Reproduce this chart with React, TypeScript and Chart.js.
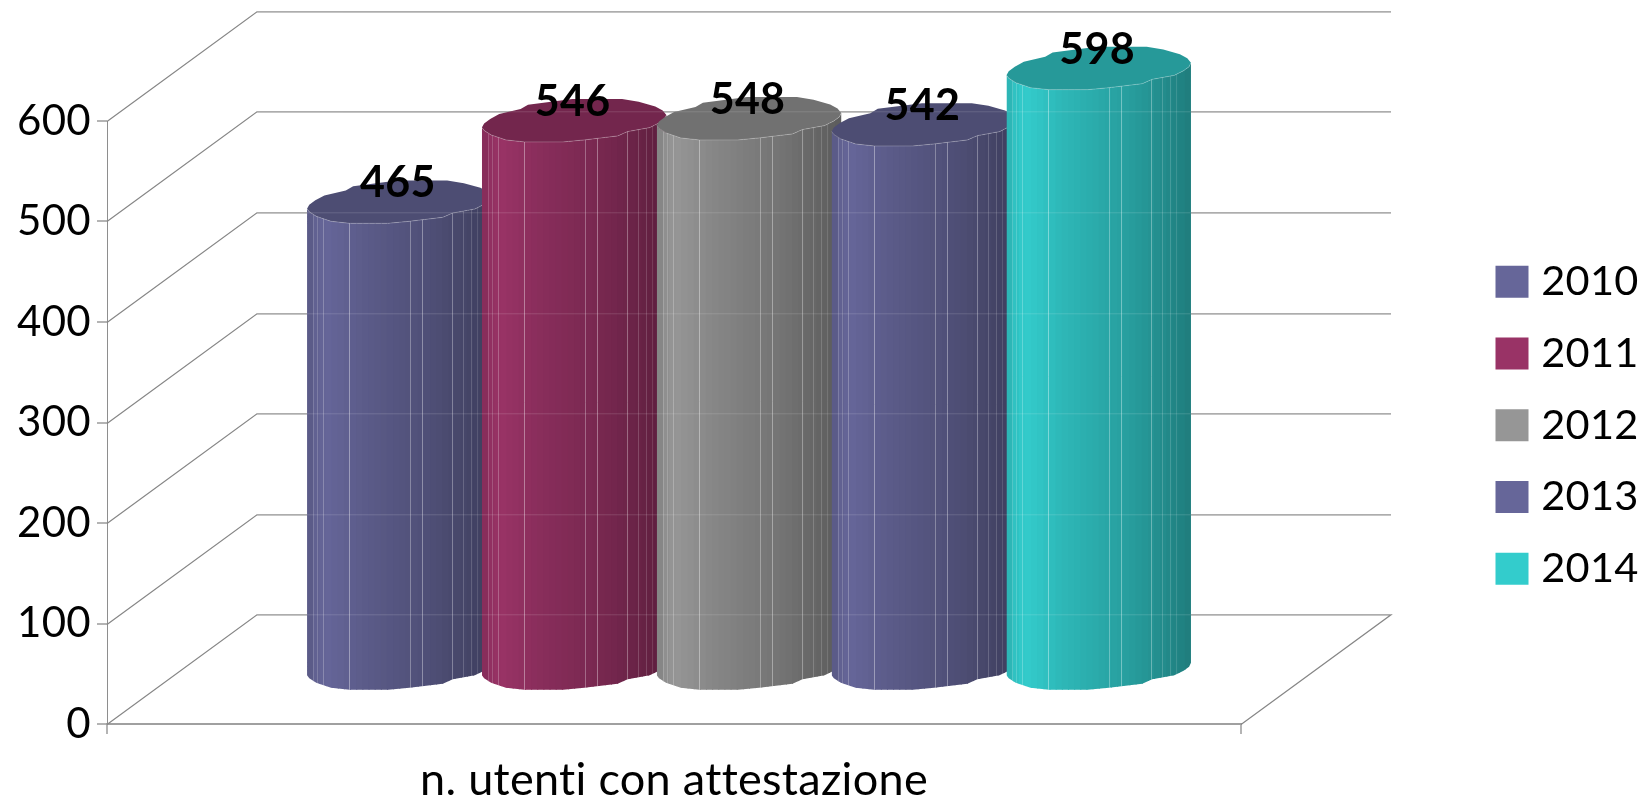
import React, { useEffect, useRef } from "react";
import { Chart, registerables } from "chart.js";

Chart.register(...registerables);

const categories = ["n. utenti con attestazione"];
const years = ["2010", "2011", "2012", "2013", "2014"];
const users = [465, 546, 548, 542, 598];
const colors = ["#666699", "#993366", "#969696", "#666699", "#33CCCC"];
const yTicks = [0, 100, 200, 300, 400, 500, 600];

const FONT = "Lato";
const DEPTH_X = 150;
const DEPTH_Y = 109.7;
const CYL_WIDTH = 184.5;

// Faceted outline of a cylinder end, as [fraction of width, y offset from centre].
const FRONT_EDGE = [[0, 7], [0.012, 10], [0.05, 14.5], [0.13, 19.5], [0.23, 21.5], [0.44, 21.5], [0.555, 19.5], [0.736, 15.5], [0.79, 11.2], [0.91, 7.2], [0.96, 2.5], [0.99, -1.5], [1, -5.5]];
const BACK_EDGE = [[0, 7], [0.012, 3], [0.045, -1.5], [0.094, -6.3], [0.21, -11.3], [0.25, -15.7], [0.49, -21.3], [0.76, -21.3], [0.85, -18.7], [0.94, -14], [0.98, -10], [1, -5.5]];
// Shading across the body, as [fraction of width, brightness].
const SHADE = [[0, 0.86], [0.05, 0.95], [0.1, 1], [0.3, 0.9], [0.5, 0.83], [0.7, 0.76], [1, 0.61]];
const FACET_LINES = [[6, 0.18], [10, 0.18], [16, 0.24], [42, 0.38], [103, 0.3], [115, 0.36], [145, 0.32], [156, 0.18], [164, 0.16], [170, 0.12]];
const STRIPS = 30;

function shadeAt(t: number) {
  for (let i = 1; i < SHADE.length; i++) {
    if (t <= SHADE[i][0]) {
      const [t0, v0] = SHADE[i - 1];
      const [t1, v1] = SHADE[i];
      return v0 + ((v1 - v0) * (t - t0)) / (t1 - t0);
    }
  }
  return SHADE[SHADE.length - 1][1];
}

function tint(hex: string, k: number) {
  const n = parseInt(hex.slice(1), 16);
  const c = [(n >> 16) & 255, (n >> 8) & 255, n & 255].map((v) => Math.round(v * k));
  return `rgb(${c[0]},${c[1]},${c[2]})`;
}

function drawCylinder(ctx: CanvasRenderingContext2D, bar: any, color: string) {
  const w = bar.width;
  const left = bar.x + DEPTH_X / 2 - w / 2;
  const topY = bar.y - DEPTH_Y / 2;
  const baseY = bar.base - DEPTH_Y / 2;

  ctx.save();
  ctx.beginPath();
  FRONT_EDGE.forEach(([f, o], i) => (i ? ctx.lineTo(left + f * w, topY + o) : ctx.moveTo(left + f * w, topY + o)));
  [...FRONT_EDGE].reverse().forEach(([f, o]) => ctx.lineTo(left + f * w, baseY + o));
  ctx.closePath();
  ctx.clip();
  for (let i = 0; i < STRIPS; i++) {
    const x0 = left + (w * i) / STRIPS;
    ctx.fillStyle = tint(color, shadeAt((i + 0.5) / STRIPS));
    ctx.fillRect(x0, topY - 30, w / STRIPS + 1, baseY - topY + 60);
  }
  ctx.lineWidth = 1;
  FACET_LINES.forEach(([off, alpha]) => {
    const x = Math.round(left + (off / CYL_WIDTH) * w) + 0.5;
    ctx.strokeStyle = `rgba(255,255,255,${alpha})`;
    ctx.beginPath();
    ctx.moveTo(x, topY - 30);
    ctx.lineTo(x, baseY + 30);
    ctx.stroke();
  });
  ctx.restore();

  ctx.beginPath();
  FRONT_EDGE.forEach(([f, o], i) => (i ? ctx.lineTo(left + f * w, topY + o) : ctx.moveTo(left + f * w, topY + o)));
  [...BACK_EDGE].reverse().forEach(([f, o]) => ctx.lineTo(left + f * w, topY + o));
  ctx.closePath();
  ctx.fillStyle = tint(color, 0.75);
  ctx.fill();

  ctx.beginPath();
  FRONT_EDGE.forEach(([f, o], i) => (i ? ctx.lineTo(left + f * w, topY + o) : ctx.moveTo(left + f * w, topY + o)));
  ctx.strokeStyle = "rgba(255,255,255,0.22)";
  ctx.lineWidth = 1;
  ctx.stroke();
}

const cylinderPlugin = {
  id: "cylinders",
  beforeDraw(chart: any) {
    // A hair of tracking, which also keeps "tt" and "ti" as separate letters.
    chart.ctx.letterSpacing = "0.3px";
  },
  afterLayout(chart: any) {
    // The legend sits well clear of the plot, in the right-hand margin.
    const legend = chart.legend;
    legend.left = 1473.35;
    legend.right = 1650;
    legend.top = 230.75;
    legend.bottom = 797;
  },
  beforeDatasetsDraw(chart: any) {
    const { ctx, chartArea, scales } = chart;
    ctx.save();
    ctx.strokeStyle = "#868686";
    yTicks.forEach((v) => {
      const y = Math.round(scales.y.getPixelForValue(v)) + 0.5;
      ctx.lineWidth = 1.2;
      ctx.beginPath();
      ctx.moveTo(chartArea.left, y);
      ctx.lineTo(chartArea.left + DEPTH_X, y - DEPTH_Y);
      ctx.lineTo(chartArea.right + DEPTH_X, y - DEPTH_Y);
      if (v === 0) ctx.lineTo(chartArea.right, y);
      ctx.stroke();
    });
    ctx.restore();
  },
  afterDatasetsDraw(chart: any) {
    const { ctx, chartArea, scales } = chart;
    ctx.save();
    const bars = chart.data.datasets.map((_: any, i: number) => chart.getDatasetMeta(i).data[0]);
    bars.forEach((bar: any, i: number) => drawCylinder(ctx, bar, colors[i]));

    // The back-wall grid shows faintly through the cylinders.
    ctx.strokeStyle = "rgba(255,255,255,0.14)";
    ctx.lineWidth = 1;
    yTicks.forEach((v) => {
      const y = Math.round(scales.y.getPixelForValue(v)) + 0.5 - DEPTH_Y;
      ctx.beginPath();
      ctx.moveTo(chartArea.left + DEPTH_X, y);
      ctx.lineTo(chartArea.right + DEPTH_X, y);
      ctx.stroke();
    });

    ctx.fillStyle = "#000";
    ctx.font = `bold 43px ${FONT}`;
    ctx.textAlign = "center";
    ctx.textBaseline = "middle";
    bars.forEach((bar: any, i: number) => {
      ctx.fillText(String(users[i]), bar.x + DEPTH_X / 2 - 1.5, bar.y - DEPTH_Y / 2 - 18.5);
    });
    ctx.restore();
  },
};

export default function App() {
  const canvasRef = useRef<HTMLCanvasElement>(null);

  useEffect(() => {
    const chart = new Chart(canvasRef.current as HTMLCanvasElement, {
      type: "bar",
      data: {
        labels: categories,
        datasets: years.map((year, i) => ({
          label: year,
          data: [users[i]],
          backgroundColor: "rgba(0,0,0,0)",
          borderWidth: 0,
          barPercentage: 1.055,
          categoryPercentage: 0.771,
        })),
      },
      options: {
        animation: false,
        responsive: false,
        devicePixelRatio: 1,
        layout: { padding: { top: 121, right: 409, left: 0, bottom: 0 } },
        plugins: {
          tooltip: { enabled: false },
          legend: {
            position: "chartArea",
            align: "start",
            labels: {
              color: "#000",
              font: { family: FONT, size: 41.5 },
              padding: 30.25,
              boxWidth: 16.8,
              boxHeight: 15.8,
              generateLabels: () =>
                years.map((year, i) => ({
                  text: year,
                  fillStyle: colors[i],
                  strokeStyle: colors[i],
                  lineWidth: 16.2,
                  datasetIndex: i,
                })),
            },
          },
        },
        scales: {
          x: {
            afterFit: (s: any) => {
              s.height = 73;
            },
            grid: { drawOnChartArea: false, color: "#b4b4b4", lineWidth: 2, tickLength: 10 },
            border: { color: "#a0a0a0", width: 2 },
            ticks: { color: "#000", font: { family: FONT, size: 45 }, padding: 19, maxRotation: 0 },
          },
          y: {
            min: 0,
            max: 600,
            afterFit: (s: any) => {
              s.width = 107;
            },
            grid: { drawOnChartArea: false, color: "#b4b4b4", lineWidth: 2, tickLength: 10 },
            border: { color: "#8e8e8e", width: 1 },
            ticks: { color: "#000", font: { family: FONT, size: 42 }, padding: 6, stepSize: 100 },
          },
        },
      },
      plugins: [cylinderPlugin],
    } as any);
    return () => chart.destroy();
  }, []);

  return (
    <div style={{ position: "fixed", left: 0, top: 0, width: 1650, height: 797, background: "#fff" }}>
      <canvas ref={canvasRef} width={1650} height={797} style={{ display: "block" }} />
    </div>
  );
}
